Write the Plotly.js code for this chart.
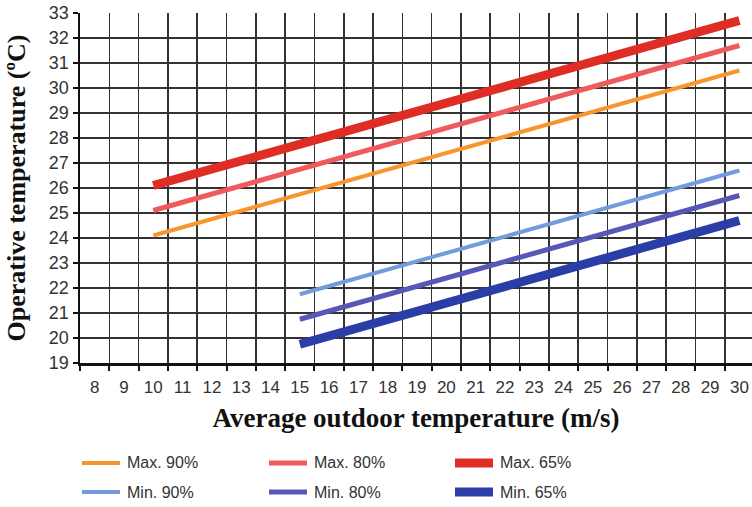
<!DOCTYPE html>
<html><head><meta charset="utf-8">
<script src="https://cdn.plot.ly/plotly-3.0.1.min.js"></script>
<style>html,body{margin:0;padding:0;background:#fff;}#c{width:752px;height:507px;}</style>
</head><body><div id="c"></div>
<script>
const xTicks = [8,9,10,11,12,13,14,15,16,17,18,19,20,21,22,23,24,25,26,27,28,29,30];
const yTicks = [19,20,21,22,23,24,25,26,27,28,29,30,31,32,33];
const seriesNames = ['Max. 90%','Max. 80%','Max. 65%','Min. 90%','Min. 80%','Min. 65%'];
const maxX = [10, 30];
const minX = [15, 30];
const max90 = [24.1, 30.7];
const max80 = [25.1, 31.7];
const max65 = [26.1, 32.7];
const min90 = [21.75, 26.7];
const min80 = [20.75, 25.7];
const min65 = [19.75, 24.7];
const colors = ['#F7962F','#F05A5C','#DF2C24','#729CDB','#5558B4','#2B3DA6'];
const widths = [4, 5, 9, 4, 5, 9];

const xs = [maxX,maxX,maxX,minX,minX,minX];
const ys = [max90,max80,max65,min90,min80,min65];
const traces = ys.map((y,i)=>({
  x: xs[i], y: y, type:'scatter', mode:'lines', name: seriesNames[i],
  line:{color:colors[i], width:widths[i]}, showlegend:false, hoverinfo:'skip'
}));

const gridVals = [];
for (let v = 7.5; v <= 30.5; v += 1) gridVals.push(v);

const shapes = [], annotations = [];
const legCols = [80, 267, 453];
const legRows = [463, 492];
const H = 507, W = 752;
seriesNames.forEach((n,i)=>{
  const col = i % 3, row = Math.floor(i/3);
  const x0 = legCols[col], yy = legRows[row];
  shapes.push({type:'line', xref:'paper', yref:'paper',
    x0:(x0+2-80)/672, x1:(x0+40-80)/672,
    y0:(363-yy)/350, y1:(363-yy)/350,
    line:{color:colors[i], width:widths[i]}});
  annotations.push({xref:'paper', yref:'paper', x:(x0+45-80)/672, y:(363-yy)/350,
    xanchor:'left', yanchor:'middle', showarrow:false, text:n,
    font:{family:'Liberation Sans, Arial', size:16, color:'#333'}});
});

const layout = {
  width: W, height: H,
  margin:{l:80, r:0, t:13, b:144},
  paper_bgcolor:'#fff', plot_bgcolor:'#fff',
  showlegend:false,
  xaxis:{
    range:[7.5, 30.43], tickvals:gridVals, ticktext:gridVals.map(()=> ''),
    showgrid:true, gridcolor:'#333', gridwidth:1.6,
    ticks:'outside', ticklen:5, tickwidth:2, tickcolor:'#111',
    showline:true, linecolor:'#111', linewidth:2.5, zeroline:false,
    title:{text:''}
  },
  xaxis2:{
    overlaying:'x', range:[7.5, 30.43], tickvals:xTicks, ticktext:xTicks.map(String),
    showgrid:false, ticks:'', side:'bottom', anchor:'y', zeroline:false,
    ticklabelstandoff:12,
    tickfont:{family:'Liberation Sans, Arial', size:17, color:'#333'},
    title:{text:'Average outdoor temperature (m/s)', standoff:12,
      font:{family:'Liberation Serif, Times New Roman', size:27, color:'#111', weight:'bold'}}
  },
  yaxis:{
    range:[19, 33], tickvals:yTicks, ticktext:yTicks.map(String),
    showgrid:true, gridcolor:'#333', gridwidth:1.6,
    ticks:'outside', ticklen:5, tickwidth:2, tickcolor:'#111',
    showline:true, linecolor:'#111', linewidth:2.5, zeroline:false,
    tickfont:{family:'Liberation Sans, Arial', size:18, color:'#333'},
    title:{text:'Operative temperature (ºC)', standoff:16,
      font:{family:'Liberation Serif, Times New Roman', size:26, color:'#111', weight:'bold'}}
  },
  shapes: shapes, annotations: annotations
};
traces.push({x:[], y:[], xaxis:'x2', yaxis:'y', type:'scatter', showlegend:false});
Plotly.newPlot('c', traces, layout, {displayModeBar:false, staticPlot:true});
</script></body></html>
